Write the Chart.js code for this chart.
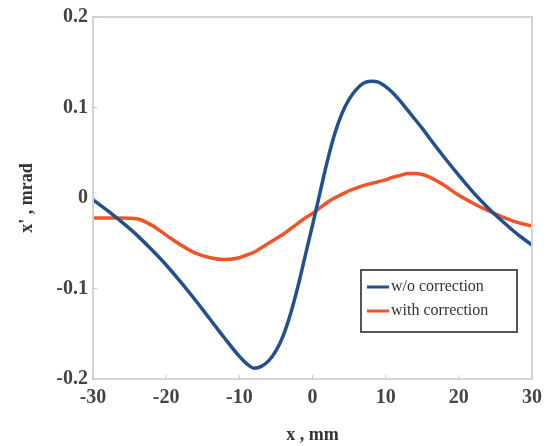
<!DOCTYPE html>
<html>
<head>
<meta charset="utf-8">
<script src="https://cdn.jsdelivr.net/npm/chart.js@4/dist/chart.umd.min.js"></script>
<style>
  html, body { margin: 0; padding: 0; background: #fff; }
  #wrap { width: 549px; height: 446px; }
</style>
</head>
<body>
<div id="wrap"><canvas id="slopeChart"></canvas></div>
<script>
// positions along x, mm
const xPos = [-30, -28, -26, -24, -22, -20, -18, -16, -14, -12, -10, -9, -8, -7, -6, -5, -4, -3, -2, -1, 0,
              1, 2, 3, 4, 5, 6, 7, 8, 9, 10, 11, 12, 13, 14, 15, 16, 18, 20, 22, 24, 26, 28, 30];

// x', mrad without correction
const noCorr = [-0.002, -0.014, -0.027, -0.041, -0.057, -0.074, -0.093, -0.113, -0.134, -0.155, -0.175, -0.183, -0.188, -0.186, -0.180, -0.169, -0.152, -0.128, -0.098, -0.064, -0.030,
                0.005, 0.040, 0.070, 0.093, 0.109, 0.120, 0.127, 0.129, 0.128, 0.123, 0.116, 0.107, 0.097, 0.087, 0.077, 0.066, 0.045, 0.025, 0.006, -0.011, -0.026, -0.040, -0.052];

// x', mrad with correction
const withCorr = [-0.022, -0.022, -0.022, -0.023, -0.030, -0.041, -0.052, -0.061, -0.066, -0.068, -0.066, -0.063, -0.060, -0.055, -0.050, -0.045, -0.040, -0.034, -0.028, -0.022, -0.017,
                  -0.011, -0.005, 0.000, 0.004, 0.008, 0.011, 0.014, 0.016, 0.018, 0.020, 0.023, 0.025, 0.027, 0.027, 0.026, 0.023, 0.014, 0.003, -0.006, -0.014, -0.021, -0.027, -0.031];

const seriesNames = ['w/o correction', 'with correction'];
const xTicks = [-30, -20, -10, 0, 10, 20, 30];
const yTicks = [-0.2, -0.1, 0, 0.1, 0.2];

const toPts = (ys) => xPos.map((x, i) => ({ x: x, y: ys[i] }));

const serif = '"Liberation Serif", "DejaVu Serif", serif';

// frame round the plot plus small inward ticks
const framePlugin = {
  id: 'frame',
  afterDatasetsDraw(chart) {
    const { ctx, chartArea: a, scales } = chart;
    ctx.save();
    ctx.strokeStyle = '#d4d4d4';
    ctx.lineWidth = 2;
    ctx.strokeRect(a.left, a.top, a.right - a.left, a.bottom - a.top);
    ctx.lineWidth = 1;
    ctx.strokeStyle = '#c8c8c8';
    xTicks.forEach(v => {
      const px = scales.x.getPixelForValue(v);
      ctx.beginPath(); ctx.moveTo(px, a.bottom); ctx.lineTo(px, a.bottom - 4); ctx.stroke();
    });
    yTicks.forEach(v => {
      const py = scales.y.getPixelForValue(v);
      ctx.beginPath(); ctx.moveTo(a.left, py); ctx.lineTo(a.left + 4, py); ctx.stroke();
    });
    ctx.restore();
  }
};

// boxed legend inside the plot, lower right
const boxLegend = {
  id: 'boxLegend',
  afterDraw(chart) {
    const { ctx, chartArea: a } = chart;
    const x0 = a.right - 171, y0 = a.bottom - 109, w = 156, h = 62;
    ctx.save();
    ctx.fillStyle = '#fff';
    ctx.fillRect(x0, y0, w, h);
    ctx.strokeStyle = '#555';
    ctx.lineWidth = 2;
    ctx.strokeRect(x0, y0, w, h);
    ctx.font = '16px ' + serif;
    ctx.textBaseline = 'middle';
    chart.data.datasets.forEach((ds, i) => {
      const yy = y0 + 17 + i * 24;
      ctx.strokeStyle = ds.borderColor;
      ctx.lineWidth = 3;
      ctx.beginPath(); ctx.moveTo(x0 + 6, yy); ctx.lineTo(x0 + 28, yy); ctx.stroke();
      ctx.fillStyle = '#333';
      ctx.fillText(ds.label, x0 + 30, yy);
    });
    ctx.restore();
  }
};

const config = {
  type: 'line',
  data: {
    datasets: [
      {
        label: seriesNames[0],
        data: toPts(noCorr),
        borderColor: '#22508f',
        borderWidth: 3.5,
        pointRadius: 0,
        cubicInterpolationMode: 'monotone'
      },
      {
        label: seriesNames[1],
        data: toPts(withCorr),
        borderColor: '#f2542a',
        borderWidth: 3.5,
        pointRadius: 0,
        cubicInterpolationMode: 'monotone'
      }
    ]
  },
  options: {
    responsive: true,
    maintainAspectRatio: false,
    animation: false,
    layout: { padding: { left: 0, top: 16, right: 16, bottom: 0 } },
    plugins: {
      legend: { display: false },
      tooltip: { enabled: false }
    },
    scales: {
      x: {
        type: 'linear',
        min: -30,
        max: 30,
        afterBuildTicks: (s) => { s.ticks = xTicks.map(v => ({ value: v })); },
        afterFit: (s) => { s.height = 67; },
        grid: { display: false, drawTicks: false },
        border: { display: false },
        ticks: {
          padding: 7,
          color: '#444',
          font: { family: serif, size: 20, weight: 'bold' },
          maxRotation: 0
        },
        title: {
          display: true,
          text: 'x , mm',
          color: '#333',
          padding: { top: 0, bottom: 0 },
          font: { family: serif, size: 18, weight: 'bold' }
        }
      },
      y: {
        min: -0.2,
        max: 0.2,
        afterBuildTicks: (s) => { s.ticks = yTicks.map(v => ({ value: v })); },
        afterFit: (s) => { s.width = 93; },
        grid: { display: false, drawTicks: false },
        border: { display: false },
        ticks: {
          padding: 5,
          color: '#444',
          font: { family: serif, size: 20, weight: 'bold' },
          callback: (v) => (Math.abs(v) < 1e-9 ? '0' : v.toFixed(1))
        },
        title: {
          display: true,
          text: "x' , mrad",
          color: '#333',
          padding: { top: 17, bottom: 0 },
          font: { family: serif, size: 18, weight: 'bold' }
        }
      }
    }
  },
  plugins: [framePlugin, boxLegend]
};

const ctx = document.getElementById('slopeChart').getContext('2d');
const slopeChart = new Chart(ctx, config);
</script>
</body>
</html>
